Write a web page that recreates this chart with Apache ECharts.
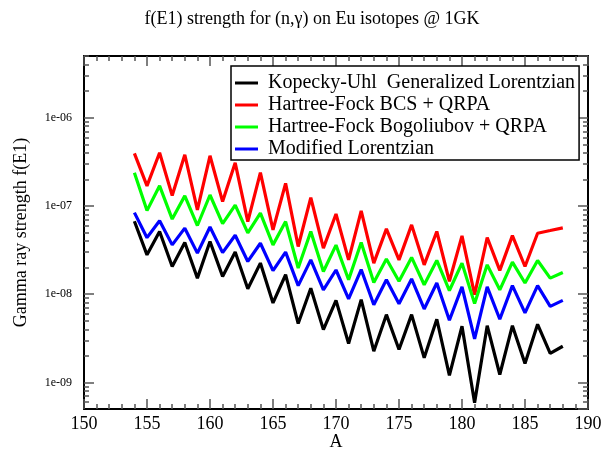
<!DOCTYPE html>
<html><head><meta charset="utf-8">
<script src="https://cdn.jsdelivr.net/npm/echarts@6/dist/echarts.min.js"></script>
<style>html,body{margin:0;padding:0;background:#fff}#c{width:605px;height:449px}</style>
</head><body><div id="c"></div>
<script>
const massNumbers = [154,155,156,157,158,159,160,161,162,163,164,165,166,167,168,169,170,171,172,173,174,175,176,177,178,179,180,181,182,183,184,185,186,187,188];
const kopeckyUhl = [6.7e-8,2.79e-8,5.13e-8,2.06e-8,3.85e-8,1.52e-8,3.95e-8,1.59e-8,3.0e-8,1.15e-8,2.25e-8,7.96e-9,1.66e-8,4.65e-9,1.17e-8,3.97e-9,8.5e-9,2.76e-9,8.67e-9,2.26e-9,5.86e-9,2.36e-9,5.86e-9,1.90e-9,5.2e-9,1.2e-9,4.33e-9,5.9e-10,4.4e-9,1.23e-9,4.4e-9,1.64e-9,4.56e-9,2.13e-9,2.57e-9];
const hfBcsQrpa = [3.94e-7,1.69e-7,4.0e-7,1.31e-7,3.8e-7,9.0e-8,3.7e-7,1.12e-7,3.08e-7,6.65e-8,2.38e-7,5.36e-8,1.80e-7,3.47e-8,1.24e-7,3.33e-8,8.1e-8,2.45e-8,8.8e-8,2.25e-8,5.5e-8,2.45e-8,6.1e-8,2.15e-8,5.13e-8,1.40e-8,4.58e-8,9.87e-9,4.39e-8,1.86e-8,4.61e-8,2.06e-8,4.91e-8,5.26e-8,5.64e-8];
const hfBogQrpa = [2.38e-7,8.85e-8,1.69e-7,7.1e-8,1.30e-7,6.0e-8,1.33e-7,6.3e-8,1.02e-7,4.95e-8,8.28e-8,3.62e-8,6.65e-8,1.98e-8,5.13e-8,1.81e-8,3.6e-8,1.46e-8,3.85e-8,1.36e-8,2.5e-8,1.4e-8,2.61e-8,1.28e-8,2.41e-8,1.10e-8,2.25e-8,7.82e-9,2.15e-8,1.12e-8,2.31e-8,1.34e-8,2.41e-8,1.52e-8,1.76e-8];
const modLorentzian = [8.4e-8,4.37e-8,6.8e-8,3.62e-8,5.6e-8,2.92e-8,5.78e-8,2.96e-8,4.65e-8,2.35e-8,3.78e-8,1.85e-8,3.0e-8,1.25e-8,2.45e-8,1.12e-8,1.88e-8,8.83e-9,1.9e-8,7.6e-9,1.46e-8,7.8e-9,1.49e-8,6.8e-9,1.34e-8,5.06e-9,1.21e-8,3.12e-9,1.21e-8,5.2e-9,1.25e-8,6.14e-9,1.25e-8,7.28e-9,8.51e-9];
const seriesNames = ['Kopecky-Uhl  Generalized Lorentzian','Hartree-Fock BCS + QRPA','Hartree-Fock Bogoliubov + QRPA','Modified Lorentzian'];
const seriesColors = ['#000000','#ff0000','#00ff00','#0000ff'];
const yMin = 5e-10, yMax = 5e-6;
const yMinorTicks = [];
for (let e = -10; e <= -6; e++) for (let k = 2; k <= 9; k++) { const v = k * Math.pow(10, e); if (v > yMin && v < yMax) yMinorTicks.push(Math.log10(v)); }

const FONT = 'Liberation Serif';
const chart = echarts.init(document.getElementById('c'), null, {renderer: 'canvas'});
const pairs = arr => massNumbers.map((a, i) => [a, arr[i]]);
const allData = [kopeckyUhl, hfBcsQrpa, hfBogQrpa, modLorentzian];
const lineAxis = {show: true, lineStyle: {color: '#000', width: 2}};
const xCommon = {type: 'value', min: 150, max: 190, interval: 5, axisLine: lineAxis,
  axisTick: {show: true, inside: true, length: 10, lineStyle: {color: '#555', width: 1.5}},
  minorTick: {show: true, splitNumber: 5, length: 5, lineStyle: {color: '#555', width: 1.5}},
  splitLine: {show: false}};
const yLog = {type: 'log', logBase: 10, min: yMin, max: yMax, axisLine: lineAxis,
  axisTick: {show: true, inside: true, length: 10, lineStyle: {color: '#555', width: 1.5}},
  splitLine: {show: false}, minorTick: {show: false}};
const yMinor = pos => ({type: 'value', position: pos, min: Math.log10(yMin), max: Math.log10(yMax),
  axisLine: {show: false}, axisLabel: {show: false}, splitLine: {show: false},
  axisTick: {show: true, inside: true, length: 5, customValues: yMinorTicks, lineStyle: {color: '#555', width: 1.5}}});
chart.setOption({
  animation: false,
  backgroundColor: '#fff',
  title: {text: 'f(E1) strength for (n,\u03b3) on Eu isotopes @ 1GK', left: 307, textAlign: 'center', top: 5,
    textStyle: {fontFamily: FONT, fontSize: 18, fontWeight: 'normal', color: '#000'}},
  grid: {left: 84, right: 17, top: 56, bottom: 40, containLabel: false, outerBoundsMode: 'none'},
  legend: {show: true, orient: 'vertical', left: 231, top: 66, data: seriesNames,
    icon: 'rect', itemWidth: 23, itemHeight: 3, itemGap: 2,
    borderColor: '#000', borderWidth: 1.5, padding: [7, 4, 1, 4], backgroundColor: '#fff',
    textStyle: {fontFamily: FONT, fontSize: 20, lineHeight: 20, color: '#000', padding: [0, 0, 0, 5]}},
  xAxis: [
    Object.assign({}, xCommon, {position: 'bottom', name: 'A', nameLocation: 'middle', nameGap: 24, nameMoveOverlap: false,
      nameTextStyle: {fontFamily: FONT, fontSize: 18, color: '#000'},
      axisLabel: {fontFamily: FONT, fontSize: 18, color: '#000', margin: 6}}),
    Object.assign({}, xCommon, {position: 'top', axisLabel: {show: false}})
  ],
  yAxis: [
    Object.assign({}, yLog, {position: 'left', name: 'Gamma ray strength f(E1)', nameLocation: 'middle', nameGap: 54, nameMoveOverlap: false,
      nameTextStyle: {fontFamily: FONT, fontSize: 18, color: '#000'},
      axisLabel: {fontFamily: FONT, fontSize: 12, color: '#000', margin: 12, showMinLabel: false, showMaxLabel: false,
        formatter: v => { const e = Math.round(Math.log10(v)); return '1e' + (e < 0 ? '-' : '+') + String(Math.abs(e)).padStart(2, '0'); }}}),
    Object.assign({}, yLog, {position: 'right', axisLabel: {show: false}}),
    yMinor('left'),
    yMinor('right')
  ],
  series: allData.map((arr, i) => ({
    name: seriesNames[i], type: 'line', xAxisIndex: 0, yAxisIndex: 0, data: pairs(arr),
    showSymbol: false, symbol: 'none', lineStyle: {color: seriesColors[i], width: 3.2}, itemStyle: {color: seriesColors[i]},
    z: 2 + i
  }))
});
</script></body></html>
